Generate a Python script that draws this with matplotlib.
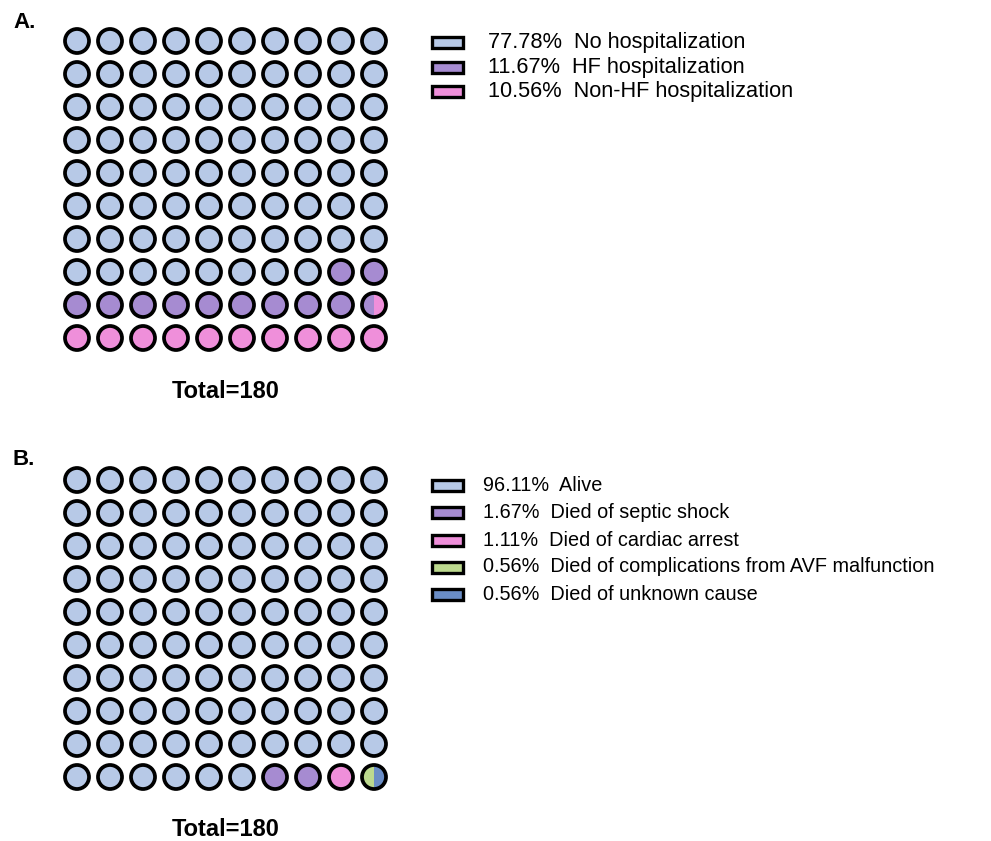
import matplotlib.pyplot as plt
from matplotlib.patches import Circle, Wedge, Rectangle

plt.rcParams['font.family'] = ['Liberation Sans', 'DejaVu Sans']

# panel A: hospitalization outcome
hosp_labels = ['No hospitalization', 'HF hospitalization', 'Non-HF hospitalization']
hosp_pct = [77.78, 11.67, 10.56]
hosp_colors = ['#b7c9e7', '#a68bd1', '#ef8fda']

# panel B: survival outcome
surv_labels = ['Alive', 'Died of septic shock', 'Died of cardiac arrest',
               'Died of complications from AVF malfunction', 'Died of unknown cause']
surv_pct = [96.11, 1.67, 1.11, 0.56, 0.56]
surv_colors = ['#b7c9e7', '#a68bd1', '#ef8fda', '#bcd98e', '#6a8dc6']

total_n = 180

W, H = 991, 841
fig = plt.figure(figsize=(W / 100, H / 100), dpi=100)
ax = fig.add_axes([0, 0, 1, 1])
ax.set_xlim(0, W)
ax.set_ylim(H, 0)
ax.set_aspect('equal')
ax.axis('off')

CELL = 33.0
R = 12.0
LW = 2.7


def half_units(pcts):
    # cumulative boundaries rounded to half a dot
    bounds = [0.0]
    s = 0.0
    for p in pcts:
        s += p
        bounds.append(round(s * 2) / 2)
    return bounds


def color_at(bounds, colors, pos):
    for i in range(len(colors)):
        if bounds[i] <= pos < bounds[i + 1]:
            return colors[i]
    return colors[-1]


def waffle(x0, y0, pcts, colors):
    bounds = half_units(pcts)
    for k in range(100):
        row, col = divmod(k, 10)
        cx = x0 + col * CELL
        cy = y0 + row * CELL
        left = color_at(bounds, colors, k + 0.25)
        right = color_at(bounds, colors, k + 0.75)
        if left == right:
            ax.add_patch(Circle((cx, cy), R, facecolor=left, edgecolor='none'))
        else:
            # y axis is inverted, so 90..270 is still the left half
            ax.add_patch(Wedge((cx, cy), R, 90, 270, facecolor=left, edgecolor='none'))
            ax.add_patch(Wedge((cx, cy), R, 270, 90, facecolor=right, edgecolor='none'))
        ax.add_patch(Circle((cx, cy), R, facecolor='none', edgecolor='black', lw=LW))
    ax.text(x0 + 4.5 * CELL, y0 + 9 * CELL + 53, f'Total={total_n}',
            ha='center', va='center', fontsize=17, fontweight='bold')


def key(x_box, x_text, ys, pcts, labels, colors, size):
    for y, p, lab, c in zip(ys, pcts, labels, colors):
        ax.add_patch(Rectangle((x_box, y - 5.5), 31, 11, facecolor=c,
                               edgecolor='black', lw=2.4))
        ax.text(x_text, y, f'{p:.2f}%  {lab}', ha='left', va='center',
                fontsize=size)


waffle(77, 41, hosp_pct, hosp_colors)
key(432, 488, [42, 67, 91], hosp_pct, hosp_labels, hosp_colors, 15.7)
ax.text(13, 22, 'A.', ha='left', va='center', fontsize=16, fontweight='bold')

waffle(77, 480, surv_pct, surv_colors)
key(432, 483, [485, 512, 540, 567, 594], surv_pct, surv_labels, surv_colors, 14.3)
ax.text(13, 459, 'B.', ha='left', va='center', fontsize=16, fontweight='bold')

fig.savefig('out.png', dpi=100)
